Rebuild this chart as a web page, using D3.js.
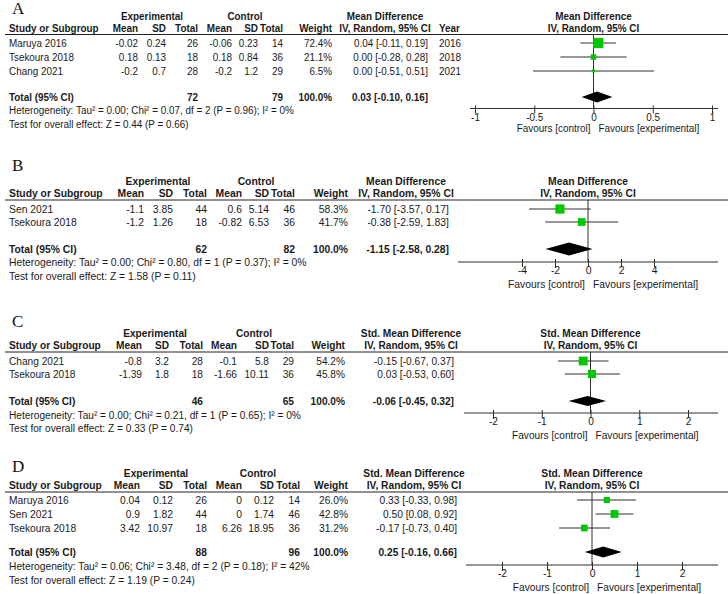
<!DOCTYPE html>
<html><head><meta charset="utf-8">
<script src="https://cdn.jsdelivr.net/npm/d3@7"></script>
<style>
html,body{margin:0;padding:0;background:#fff;}
svg{display:block;}
</style></head>
<body>
<svg id="chart" width="728" height="594"></svg>
<script>
// ---------- DATA ----------
const panelLetters = ["A","B","C","D"];
const measureTitles = ["Mean Difference","Mean Difference","Std. Mean Difference","Std. Mean Difference"];

// Panel A
const studiesA = ["Maruya 2016","Tsekoura 2018","Chang 2021"];
const expMeanA = ["-0.02","0.18","-0.2"];
const expSDA   = ["0.24","0.13","0.7"];
const expNA    = [26,18,28];
const ctlMeanA = ["-0.06","0.18","-0.2"];
const ctlSDA   = ["0.23","0.84","1.2"];
const ctlNA    = [14,36,29];
const weightA  = [72.4,21.1,6.5];
const estA     = [0.04,0.00,0.00];
const loA      = [-0.11,-0.28,-0.51];
const hiA      = [0.19,0.28,0.51];
const yearA    = [2016,2018,2021];
const totalA   = [0.03,-0.10,0.16];
const totalNA  = [72,79];
const hetA     = "Heterogeneity: Tau² = 0.00; Chi² = 0.07, df = 2 (P = 0.96); I² = 0%";
const testA    = "Test for overall effect: Z = 0.44 (P = 0.66)";
const ticksA   = [-1,-0.5,0,0.5,1];

// Panel B
const studiesB = ["Sen 2021","Tsekoura 2018"];
const expMeanB = ["-1.1","-1.2"];
const expSDB   = ["3.85","1.26"];
const expNB    = [44,18];
const ctlMeanB = ["0.6","-0.82"];
const ctlSDB   = ["5.14","6.53"];
const ctlNB    = [46,36];
const weightB  = [58.3,41.7];
const estB     = [-1.70,-0.38];
const loB      = [-3.57,-2.59];
const hiB      = [0.17,1.83];
const totalB   = [-1.15,-2.58,0.28];
const totalNB  = [62,82];
const hetB     = "Heterogeneity: Tau² = 0.00; Chi² = 0.80, df = 1 (P = 0.37); I² = 0%";
const testB    = "Test for overall effect: Z = 1.58 (P = 0.11)";
const ticksB   = [-4,-2,0,2,4];

// Panel C
const studiesC = ["Chang 2021","Tsekoura 2018"];
const expMeanC = ["-0.8","-1.39"];
const expSDC   = ["3.2","1.8"];
const expNC    = [28,18];
const ctlMeanC = ["-0.1","-1.66"];
const ctlSDC   = ["5.8","10.11"];
const ctlNC    = [29,36];
const weightC  = [54.2,45.8];
const estC     = [-0.15,0.03];
const loC      = [-0.67,-0.53];
const hiC      = [0.37,0.60];
const totalC   = [-0.06,-0.45,0.32];
const totalNC  = [46,65];
const hetC     = "Heterogeneity: Tau² = 0.00; Chi² = 0.21, df = 1 (P = 0.65); I² = 0%";
const testC    = "Test for overall effect: Z = 0.33 (P = 0.74)";
const ticksC   = [-2,-1,0,1,2];

// Panel D
const studiesD = ["Maruya 2016","Sen 2021","Tsekoura 2018"];
const expMeanD = ["0.04","0.9","3.42"];
const expSDD   = ["0.12","1.82","10.97"];
const expND    = [26,44,18];
const ctlMeanD = ["0","0","6.26"];
const ctlSDD   = ["0.12","1.74","18.95"];
const ctlND    = [14,46,36];
const weightD  = [26.0,42.8,31.2];
const estD     = [0.33,0.50,-0.17];
const loD      = [-0.33,0.08,-0.73];
const hiD      = [0.98,0.92,0.40];
const totalD   = [0.25,-0.16,0.66];
const totalND  = [88,96];
const hetD     = "Heterogeneity: Tau² = 0.06; Chi² = 3.48, df = 2 (P = 0.18); I² = 42%";
const testD    = "Test for overall effect: Z = 1.19 (P = 0.24)";
const ticksD   = [-2,-1,0,1,2];

// ---------- LAYOUT (positions only) ----------
const layouts = [
  {fs:9.9, yLetter:14, yH1:20, yH2:32, yUL:34.5, rows:[47,61,75], yTot:101, yHet:114, yTest:128, yAx:108.5, yTick:121, yFav:132,
   cols:{mean:138, sd:166, n:198, cmean:232, csd:258, cn:283, w:332, ci:428, year:439}, expC:152, ctlC:245,
   xr:[475,712], axL:470, axR:718, dh:5.5},
  {fs:10.35, yLetter:171, yH1:185, yH2:197, yUL:200, rows:[213,226], yTot:253, yHet:266, yTest:280, yAx:262, yTick:274, yFav:288,
   cols:{mean:144, sd:173, n:207, cmean:242, csd:269, cn:295, w:348, ci:449}, expC:158, ctlC:256,
   xr:[522,654], axL:458, axR:718, dh:6.5},
  {fs:10.15, yLetter:327, yH1:337, yH2:349, yUL:352, rows:[365,378], yTot:405, yHet:419, yTest:432, yAx:413, yTick:425, yFav:439,
   cols:{mean:142, sd:169, n:203, cmean:237, csd:269, cn:294, w:345, ci:454}, expC:155, ctlC:254,
   xr:[493,688], axL:464, axR:718, dh:5},
  {fs:10.25, yLetter:472, yH1:477, yH2:489, yUL:492, rows:[504,518,532], yTot:556, yHet:570, yTest:584, yAx:565, yTick:577, yFav:591,
   cols:{mean:140, sd:173, n:207, cmean:242, csd:274, cn:300, w:348, ci:457}, expC:156, ctlC:258,
   xr:[502,682], axL:466, axR:718, dh:5.5}
];

const panels = [
  {studies:studiesA, expMean:expMeanA, expSD:expSDA, expN:expNA, ctlMean:ctlMeanA, ctlSD:ctlSDA, ctlN:ctlNA, weight:weightA, est:estA, lo:loA, hi:hiA, year:yearA, total:totalA, totalN:totalNA, het:hetA, test:testA, ticks:ticksA},
  {studies:studiesB, expMean:expMeanB, expSD:expSDB, expN:expNB, ctlMean:ctlMeanB, ctlSD:ctlSDB, ctlN:ctlNB, weight:weightB, est:estB, lo:loB, hi:hiB, year:null, total:totalB, totalN:totalNB, het:hetB, test:testB, ticks:ticksB},
  {studies:studiesC, expMean:expMeanC, expSD:expSDC, expN:expNC, ctlMean:ctlMeanC, ctlSD:ctlSDC, ctlN:ctlNC, weight:weightC, est:estC, lo:loC, hi:hiC, year:null, total:totalC, totalN:totalNC, het:hetC, test:testC, ticks:ticksC},
  {studies:studiesD, expMean:expMeanD, expSD:expSDD, expN:expND, ctlMean:ctlMeanD, ctlSD:ctlSDD, ctlN:ctlND, weight:weightD, est:estD, lo:loD, hi:hiD, year:null, total:totalD, totalN:totalND, het:hetD, test:testD, ticks:ticksD}
];

// ---------- DRAW ----------
const svg = d3.select("#chart");
svg.append("rect").attr("width",728).attr("height",594).attr("fill","#fff");
const FONT = "'Liberation Sans', Arial, sans-serif";
const TXT = "#1a1a1a";
const LINE = "#2e2e2e";
const GREEN = "#00c800";
const TALL = 1.07;            // glyphs a little taller than wide, as in the reference
const fmt = v => (Math.abs(v) < 0.005 ? 0 : v).toFixed(2);
const sizeScale = d3.scaleSqrt().domain([0,100]).range([0,12]);

panels.forEach((p,i)=>{
  const L = layouts[i];
  const c = L.cols;
  const FS = L.fs * TALL;
  const SX = 1 / TALL;
  const g = svg.append("g");
  const txt = (x, y, s, anchor, bold) =>
    g.append("text").attr("transform",`translate(${x},${y}) scale(${SX},1)`).text(s)
      .attr("text-anchor",anchor||"start")
      .attr("font-family",FONT).attr("font-size",FS)
      .attr("font-weight",bold?"bold":"normal").attr("fill",TXT);

  const x = d3.scaleLinear().domain([p.ticks[0], p.ticks[p.ticks.length-1]]).range(L.xr);
  const x0 = x(0);
  const ciC = c.ci - 43;

  // panel letter
  g.append("text").attr("x",12).attr("y",L.yLetter).text(panelLetters[i])
    .attr("font-family","'Liberation Serif','Times New Roman',serif").attr("font-size",17).attr("fill","#111");

  // header row 1
  txt(L.expC, L.yH1, "Experimental", "middle", true);
  txt(L.ctlC, L.yH1, "Control", "middle", true);
  txt(ciC, L.yH1, measureTitles[i], "middle", true);
  txt(x0, L.yH1, measureTitles[i], "middle", true);

  // header row 2
  txt(9, L.yH2, "Study or Subgroup", "start", true);
  txt(c.mean, L.yH2, "Mean", "end", true);
  txt(c.sd, L.yH2, "SD", "end", true);
  txt(c.n, L.yH2, "Total", "end", true);
  txt(c.cmean, L.yH2, "Mean", "end", true);
  txt(c.csd, L.yH2, "SD", "end", true);
  txt(c.cn, L.yH2, "Total", "end", true);
  txt(c.w, L.yH2, "Weight", "end", true);
  txt(ciC, L.yH2, "IV, Random, 95% CI", "middle", true);
  if (p.year) txt(c.year, L.yH2, "Year", "start", true);
  txt(x0, L.yH2, "IV, Random, 95% CI", "middle", true);

  // header line
  g.append("line").attr("x1",5).attr("x2",728).attr("y1",L.yUL).attr("y2",L.yUL)
    .attr("stroke","#222").attr("stroke-width",1);

  // zero line
  g.append("line").attr("x1",x0).attr("x2",x0).attr("y1",L.yUL).attr("y2",L.yAx)
    .attr("stroke",LINE).attr("stroke-width",1);

  // study rows
  p.studies.forEach((s,j)=>{
    const y = L.rows[j];
    txt(9, y, s, "start");
    txt(c.mean, y, p.expMean[j], "end");
    txt(c.sd, y, p.expSD[j], "end");
    txt(c.n, y, p.expN[j], "end");
    txt(c.cmean, y, p.ctlMean[j], "end");
    txt(c.csd, y, p.ctlSD[j], "end");
    txt(c.cn, y, p.ctlN[j], "end");
    txt(c.w, y, p.weight[j].toFixed(1)+"%", "end");
    txt(c.ci, y, fmt(p.est[j])+" ["+fmt(p.lo[j])+", "+fmt(p.hi[j])+"]", "end");
    if (p.year) txt(c.year, y, p.year[j], "start");
    const yc = y - 4;
    g.append("line").attr("x1",x(p.lo[j])).attr("x2",x(p.hi[j])).attr("y1",yc).attr("y2",yc)
      .attr("stroke",LINE).attr("stroke-width",1);
    const sz = Math.max(3, sizeScale(p.weight[j]));
    g.append("rect").attr("x",x(p.est[j])-sz/2).attr("y",yc-sz/2).attr("width",sz).attr("height",sz)
      .attr("fill",GREEN);
  });

  // total row
  txt(9, L.yTot, "Total (95% CI)", "start", true);
  txt(c.n, L.yTot, p.totalN[0], "end", true);
  txt(c.cn, L.yTot, p.totalN[1], "end", true);
  txt(c.w, L.yTot, "100.0%", "end", true);
  txt(c.ci, L.yTot, fmt(p.total[0])+" ["+fmt(p.total[1])+", "+fmt(p.total[2])+"]", "end", true);
  const yd = L.yTot - 4;
  g.append("path")
    .attr("d", d3.line()([[x(p.total[1]),yd],[x(p.total[0]),yd-L.dh],[x(p.total[2]),yd],[x(p.total[0]),yd+L.dh]]) + "Z")
    .attr("fill","#000");

  txt(9, L.yHet, p.het, "start");
  txt(9, L.yTest, p.test, "start");

  // axis
  g.append("line").attr("x1",L.axL).attr("x2",L.axR).attr("y1",L.yAx).attr("y2",L.yAx)
    .attr("stroke",LINE).attr("stroke-width",1);
  const ax = g.append("g").attr("transform",`translate(0,${L.yAx})`)
    .call(d3.axisBottom(x).tickValues(p.ticks).tickSize(5).tickSizeOuter(0).tickFormat(d=>String(d)));
  ax.select(".domain").remove();
  ax.selectAll(".tick line").attr("y1",-3).attr("stroke",LINE);
  ax.selectAll(".tick text").attr("y", L.yTick - L.yAx).attr("dy",0)
    .attr("transform",`scale(${SX},1)`)
    .attr("font-family",FONT).attr("font-size",FS).attr("fill",TXT);

  txt(x0-3, L.yFav, "Favours [control]", "end");
  txt(x0+5, L.yFav, "Favours [experimental]", "start");
});
</script>
</body></html>
